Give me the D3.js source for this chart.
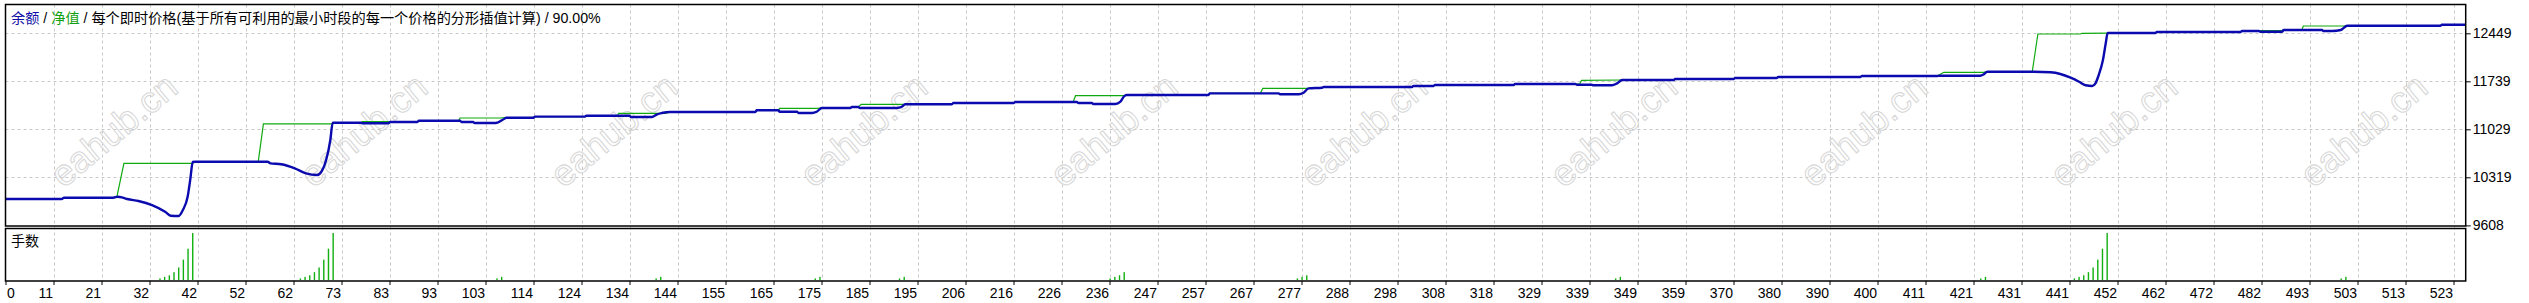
<!DOCTYPE html>
<html lang="zh">
<head>
<meta charset="UTF-8">
<title>余额 / 净值</title>
<script src="https://d3js.org/d3.v7.min.js"></script>
<style>
  body { margin: 0; background: #fff; }
  svg text { font-family: "Liberation Sans", "Noto Sans CJK SC", sans-serif; }
  .grid line { stroke: #c8c8c8; stroke-width: 1; stroke-dasharray: 3,3; }
  .wm { font-size: 37px; fill: none; stroke: #d6d6d6; stroke-width: 1; }
  .axis text { font-size: 14px; fill: #000; }
  .axis line { stroke: #000; }
</style>
</head>
<body>
<svg width="2529" height="303"></svg>
<script>
// x axis labels (trade number)
const xTickLabels = [0, 11, 21, 32, 42, 52, 62, 73, 83, 93, 103, 114, 124, 134, 144, 155, 165, 175, 185, 195,
  206, 216, 226, 236, 247, 257, 267, 277, 288, 298, 308, 318, 329, 339, 349, 359, 370, 380, 390, 400,
  411, 421, 431, 441, 452, 462, 472, 482, 493, 503, 513, 523];
const yTickValues = [9608, 10319, 11029, 11739, 12449];

// blue line: [trade, value]
const balance = [
  [0, 9998], [12, 9998], [12.5, 10018], [23, 10018], [24, 10032], [25, 10020], [26, 9998], [28.4, 9969],
  [31.3, 9909], [34.1, 9810], [35.3, 9751], [37, 9747], [37.9, 9836], [38.9, 10028], [39.5, 10300],
  [40, 10546], [40.5, 10550], [56, 10550], [56.6, 10526], [58.9, 10512], [61.8, 10452], [64.2, 10378],
  [66.6, 10353], [67.5, 10402], [68.5, 10575], [69.4, 10871], [69.9, 11127], [75.9, 11127], [76.2, 11118],
  [81.8, 11118], [82.2, 11137], [88, 11137], [88.3, 11156], [97.1, 11156], [97.4, 11137], [99.9, 11137],
  [100.2, 11122], [104.7, 11122], [106.6, 11186], [107, 11201], [112.8, 11201], [113.1, 11216],
  [123.8, 11216], [124.1, 11230], [133.3, 11230], [133.6, 11211], [138.1, 11211], [139.2, 11251],
  [140.2, 11270], [142, 11285], [160.2, 11285], [160.5, 11310], [165.1, 11310], [165.4, 11289],
  [169.1, 11289], [169.4, 11270], [172.3, 11270], [173.3, 11289], [174.4, 11344], [180.5, 11344],
  [180.8, 11359], [182.2, 11359], [182.5, 11344], [190.4, 11344], [191.5, 11363], [192.2, 11399],
  [202.2, 11399], [202.5, 11418], [215.4, 11418], [215.7, 11433], [228.9, 11433], [229.2, 11418],
  [232.1, 11418], [232.4, 11403], [237.1, 11403], [238.2, 11437], [238.9, 11511], [239.5, 11536],
  [257, 11536], [257.3, 11561], [272, 11561], [272.3, 11547], [276.3, 11547], [277.3, 11570],
  [278.4, 11635], [281.3, 11644], [281.6, 11655], [300.5, 11655], [300.8, 11670], [305.1, 11670],
  [305.4, 11684], [322.2, 11684], [322.5, 11699], [335.4, 11699], [335.7, 11689], [338.9, 11689],
  [339.2, 11680], [343.2, 11680], [344.3, 11709], [345.4, 11758], [356.4, 11758], [356.7, 11773],
  [369.2, 11773], [369.5, 11788], [378.4, 11788], [378.7, 11803], [396.3, 11803], [396.6, 11817],
  [412.7, 11817], [413, 11822], [421.9, 11822], [422.6, 11840], [423.4, 11881], [433.3, 11881],
  [436.9, 11872], [439, 11847], [441.2, 11792], [443, 11733], [444.4, 11680], [445.8, 11670],
  [446.5, 11709], [447.2, 11832], [448.1, 12054], [448.7, 12301], [449.1, 12453], [459.3, 12453],
  [459.6, 12468], [477.5, 12468], [477.8, 12483], [481.4, 12483], [481.7, 12473], [486.4, 12473],
  [486.7, 12498], [494.9, 12498], [495.2, 12483], [497.1, 12483], [498.9, 12498], [500.3, 12561],
  [520.2, 12561], [520.5, 12576], [525.5, 12576]
];

// green line: [trade, value]
const equity = [
  [0, 9998], [12, 9998], [12.5, 10018], [23, 10018], [23.8, 10032], [25.3, 10526], [39.9, 10526],
  [40.5, 10550], [54, 10550], [55.1, 11108], [69.9, 11108], [70.2, 11127], [75.9, 11127], [76.2, 11142],
  [81.8, 11142], [82.2, 11137], [88, 11137], [88.3, 11156], [96.8, 11156], [97.1, 11196], [105.6, 11196],
  [107, 11201], [112.8, 11201], [113.1, 11216], [123.8, 11216], [124.1, 11230], [130.7, 11230],
  [131, 11266], [141, 11266], [142, 11285], [160.2, 11285], [160.5, 11310], [165.1, 11310],
  [165.4, 11340], [173.3, 11340], [174.4, 11344], [180.5, 11344], [180.8, 11359], [182.2, 11359],
  [182.8, 11399], [202.2, 11399], [202.5, 11418], [215.4, 11418], [215.7, 11433], [228.1, 11433],
  [228.6, 11526], [238.9, 11526], [239.5, 11536], [257, 11536], [257.3, 11561], [268.1, 11561],
  [268.6, 11635], [278.4, 11635], [281.3, 11644], [281.6, 11655], [300.5, 11655], [300.8, 11670],
  [305.1, 11670], [305.4, 11684], [322.2, 11684], [322.5, 11699], [336.3, 11699], [336.7, 11753],
  [345.4, 11758], [356.4, 11758], [356.7, 11773], [369.2, 11773], [369.5, 11788], [378.4, 11788],
  [378.7, 11803], [396.3, 11803], [396.6, 11817], [412.7, 11817], [414.1, 11872], [422.6, 11872],
  [423.4, 11881], [433, 11881], [434.2, 12439], [443.3, 12439], [443.6, 12449], [449.1, 12453],
  [459.3, 12453], [459.6, 12468], [477.5, 12468], [477.8, 12483], [481.4, 12483], [481.7, 12488],
  [486.4, 12488], [486.7, 12498], [490.6, 12498], [490.9, 12557], [499.6, 12557], [500.3, 12561],
  [520.2, 12561], [520.5, 12576], [525.5, 12576]
];

// lots (手数)
const lotTrades = [33, 34, 35, 36, 37, 38, 39, 40, 63, 64, 65, 66, 67, 68, 69, 70, 105, 106, 139, 140,
  173, 174, 191, 192, 236, 237, 238, 239, 276, 277, 278, 344, 345, 422, 423,
  442, 443, 444, 445, 446, 447, 448, 449, 499, 500];
const lotSizes = [0.01, 0.02, 0.03, 0.05, 0.08, 0.13, 0.20, 0.30, 0.01, 0.02, 0.03, 0.05, 0.08, 0.13, 0.20, 0.30,
  0.01, 0.02, 0.01, 0.02, 0.01, 0.02, 0.01, 0.02, 0.01, 0.02, 0.03, 0.05, 0.01, 0.02, 0.03, 0.01, 0.02,
  0.01, 0.02, 0.01, 0.02, 0.03, 0.05, 0.08, 0.13, 0.20, 0.30, 0.01, 0.02];

const svg = d3.select("svg");
const left = 5.5, right = 2465.7;
const mainTop = 4.5, mainBottom = 226, lotTop = 228.5, lotBottom = 281;

const x = d3.scaleLinear().domain([0, 525.6]).range([left, right]);
const y = d3.scaleLinear().domain([9608, 12449]).range([225.4, 33.3]);
const lotY = d3.scaleLinear().domain([0, 0.30]).range([280, 233]);
const tickVals = xTickLabels.map((d, i) => i * 523 / 51);

// grid
const grid = svg.append("g").attr("class", "grid");
grid.selectAll(".v").data(tickVals.slice(1)).enter().append("line")
  .attr("x1", d => Math.round(x(d)) + 0.5).attr("x2", d => Math.round(x(d)) + 0.5)
  .attr("y1", mainTop).attr("y2", lotBottom);
grid.selectAll(".h").data(yTickValues.slice(1)).enter().append("line")
  .attr("x1", left).attr("x2", right)
  .attr("y1", d => Math.round(y(d)) + 0.5).attr("y2", d => Math.round(y(d)) + 0.5);

// watermark
svg.append("g").selectAll("text").data(d3.range(10)).enter().append("text")
  .attr("class", "wm")
  .attr("text-anchor", "middle")
  .attr("transform", d => `translate(${121.7 + 250 * d},140) rotate(-40)`)
  .text("eahub.cn");

// lines
const line = d3.line().x(d => x(d[0])).y(d => y(d[1]));
svg.append("path").datum(equity)
  .attr("d", line)
  .attr("fill", "none").attr("stroke", "#10aa10").attr("stroke-width", 1.2);
svg.append("path").datum(balance)
  .attr("d", line.curve(d3.curveMonotoneX))
  .attr("fill", "none").attr("stroke", "#0a0aae").attr("stroke-width", 2.4)
  .attr("stroke-linejoin", "round");

// lot bars
svg.append("g").selectAll("rect").data(lotTrades).enter().append("rect")
  .attr("x", d => x(d) - 0.7)
  .attr("width", 1.4)
  .attr("y", (d, i) => lotY(lotSizes[i]))
  .attr("height", (d, i) => lotY(0) - lotY(lotSizes[i]))
  .attr("fill", "#10b010");

// frames
svg.append("rect").attr("x", left).attr("y", mainTop).attr("width", right - left).attr("height", mainBottom - mainTop)
  .attr("fill", "none").attr("stroke", "#000").attr("stroke-width", 1.5);
svg.append("rect").attr("x", left).attr("y", lotTop).attr("width", right - left).attr("height", lotBottom - lotTop)
  .attr("fill", "none").attr("stroke", "#000").attr("stroke-width", 1.5);

// axes
const xAxis = svg.append("g").attr("class", "axis")
  .attr("transform", `translate(0,${lotBottom})`)
  .call(d3.axisBottom(x).tickValues(tickVals).tickFormat((d, i) => xTickLabels[i]).tickSize(4).tickPadding(3));
xAxis.select(".domain").remove();
xAxis.selectAll("text").attr("text-anchor", (d, i) => i === 0 ? "start" : "end")
  .attr("x", (d, i) => i === 0 ? 1 : -1);

const yAxis = svg.append("g").attr("class", "axis")
  .attr("transform", `translate(${right},0)`)
  .call(d3.axisRight(y).tickValues(yTickValues).tickFormat(d3.format("d")).tickSize(5).tickPadding(2));
yAxis.select(".domain").remove();

// title
const title = svg.append("text").attr("x", 11).attr("y", 23).style("font-size", "14.2px");
title.append("tspan").attr("fill", "#1010a8").text("余额");
title.append("tspan").attr("fill", "#000").text(" / ");
title.append("tspan").attr("fill", "#10a010").text("净值");
title.append("tspan").attr("fill", "#000").text(" / 每个即时价格(基于所有可利用的最小时段的每一个价格的分形插值计算) / 90.00%");

svg.append("text").attr("x", 11).attr("y", 246).style("font-size", "14px").text("手数");
</script>
</body>
</html>
